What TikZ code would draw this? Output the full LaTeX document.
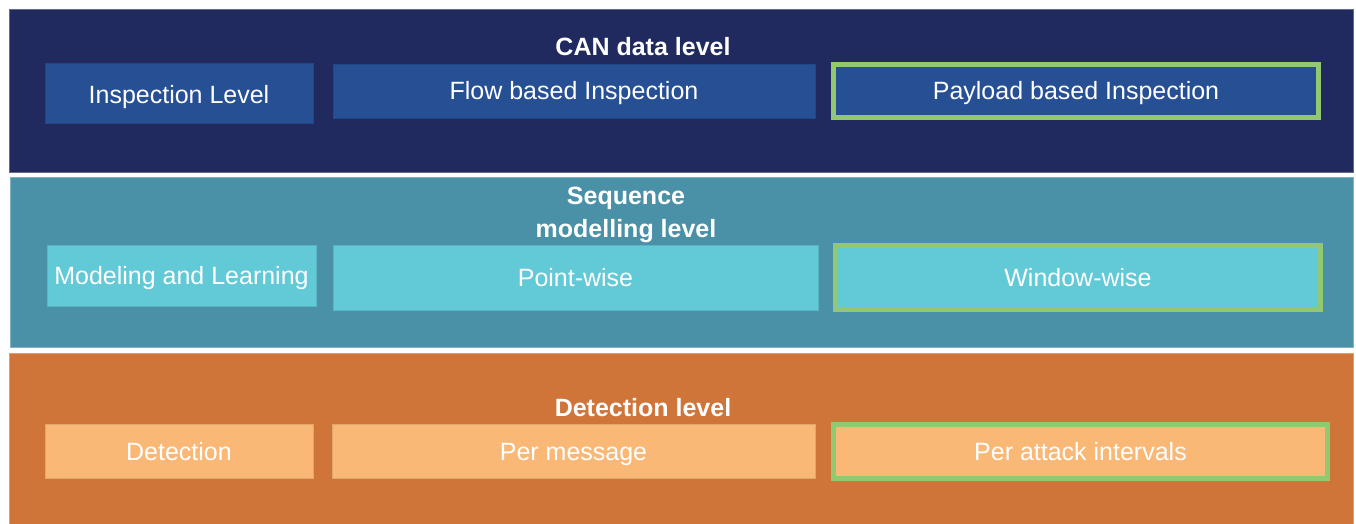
\documentclass[tikz,border=0pt]{standalone}
\usepackage{fontspec}
\setmainfont{Liberation Sans}
\definecolor{navyband}{RGB}{32,42,94}
\definecolor{navybox}{RGB}{38,79,148}
\definecolor{tealband}{RGB}{74,145,168}
\definecolor{tealbox}{RGB}{98,201,214}
\definecolor{orangeband}{RGB}{207,117,58}
\definecolor{orangebox}{RGB}{249,184,118}
\definecolor{hilite}{RGB}{146,200,111}
\begin{document}
\begin{tikzpicture}[x=1pt,y=-1pt,
  every node/.style={inner sep=0pt,outer sep=0pt,font=\fontsize{25}{30}\selectfont,text=white,text height=18pt,text depth=0pt},
  band/.style={draw=#1!70!white,line width=1pt,fill=#1},
  cell/.style={draw=#1!90!black,line width=0.8pt,fill=#1,rectangle},
  hcell/.style={draw=hilite,line width=5pt,fill=#1,rectangle},
  title/.style={font=\bfseries\fontsize{25}{33}\selectfont,align=center}]
\useasboundingbox (0,0) rectangle (1356,524);
\fill[white] (0,0) rectangle (1356,524);
% bands
\draw[band=navyband] (9,10) rectangle (1353,172);
\draw[band=tealband] (10,177) rectangle (1353,347);
\draw[band=orangeband] (9,353) rectangle (1353,526);
% titles
\node[title] (t1) at (643,47) {CAN data level};
\node[title,text height=,text depth=] (t2) at (626,215) {Sequence\\modelling level};
\node[title] (t3) at (643,407) {Detection level};
% row 1
\node[cell=navybox,minimum width=268pt,minimum height=60pt] (il) at (179,93) {};
\node (ilt) at (179,95) {Inspection Level};
\node[cell=navybox,minimum width=482pt,minimum height=54pt] (fb) at (574,91) {Flow based Inspection};
\node[hcell=navybox,minimum width=485pt,minimum height=53pt] (pb) at (1076,91) {Payload based Inspection};
% row 2
\node[cell=tealbox,minimum width=269pt,minimum height=61pt] (ml) at (181.5,275.5) {Modeling and Learning};
\node[cell=tealbox,minimum width=485pt,minimum height=65pt] (pw) at (575.5,277.5) {Point-wise};
\node[hcell=tealbox,minimum width=485pt,minimum height=64pt] (ww) at (1078,277.5) {Window-wise};
% row 3
\node[cell=orangebox,minimum width=268pt,minimum height=54pt] (det) at (179,451) {Detection};
\node[cell=orangebox,minimum width=483pt,minimum height=54pt] (pm) at (573.5,451) {Per message};
\node[hcell=orangebox,minimum width=494pt,minimum height=54pt] (pa) at (1080.5,451.5) {Per attack intervals};
\end{tikzpicture}
\end{document}
